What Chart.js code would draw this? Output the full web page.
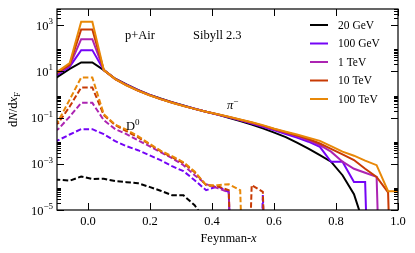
<!DOCTYPE html>
<html>
<head>
<meta charset="utf-8">
<script src="https://cdn.jsdelivr.net/npm/chart.js@4.4.1/dist/chart.umd.min.js"></script>
<style>
  html, body { margin: 0; padding: 0; background: #fff; }
</style>
</head>
<body>
<canvas id="myChart" width="415" height="253"></canvas>
<script>
// bin centres in Feynman-x (first one sits just outside the frame)
const xF = [-0.133, -0.096, -0.059, -0.022, 0.014, 0.051, 0.088, 0.124, 0.161, 0.198,
            0.234, 0.271, 0.308, 0.344, 0.381, 0.418, 0.454, 0.491, 0.528, 0.564,
            0.601, 0.638, 0.674, 0.711, 0.748, 0.784, 0.821, 0.858, 0.894, 0.931,
            0.968, 1.004];

const energias = ["20 GeV", "100 GeV", "1 TeV", "10 TeV", "100 TeV"];
const colores = ["#000000", "rgb(116,4,246)", "rgb(172,36,178)", "rgb(200,58,4)", "rgb(232,136,8)"];

// pi- (solid)
const pion20GeV  = [2.65, 6.1, 12.7, 24.3, 24.3, 11.3, 4.8, 2.7, 1.57, 0.98, 0.665, 0.465, 0.331, 0.243, 0.18, 0.134, 0.099, 0.0713, 0.0503, 0.034, 0.0222, 0.0142, 0.0082, 0.0045, 0.00236, 0.00123, 0.00032, 4.8e-5, 1.6e-6];
const pion100GeV = [4.2, 7.6, 16, 83, 83, 11.3, 4.7, 2.63, 1.52, 0.96, 0.645, 0.45, 0.324, 0.24, 0.178, 0.135, 0.102, 0.0757, 0.0556, 0.04, 0.0279, 0.0195, 0.0135, 0.00905, 0.0054, 0.00121, 0.00121, 1.64e-4, 1.64e-4, 0];
const pion1TeV   = [4.6, 8.4, 17.7, 248, 248, 11.3, 4.6, 2.58, 1.49, 0.95, 0.64, 0.45, 0.32, 0.238, 0.178, 0.136, 0.105, 0.0787, 0.0584, 0.0425, 0.0305, 0.022, 0.0157, 0.0105, 0.00638, 0.00334, 0.00123, 6.1e-4, 4.1e-4, 2.7e-4, 0];
const pion10TeV  = [5.1, 9.2, 19.5, 652, 652, 11.3, 4.6, 2.5, 1.48, 0.94, 0.635, 0.45, 0.32, 0.238, 0.18, 0.139, 0.107, 0.081, 0.0614, 0.045, 0.032, 0.0233, 0.0169, 0.0118, 0.00757, 0.00442, 0.00253, 0.00146, 6.1e-4, 2.7e-4, 5.8e-5, 0];
const pion100TeV = [4.6, 10.2, 22.6, 1390, 1390, 11.3, 4.6, 2.5, 1.46, 0.93, 0.63, 0.44, 0.318, 0.238, 0.18, 0.14, 0.109, 0.083, 0.063, 0.047, 0.033, 0.0245, 0.0185, 0.0135, 0.0098, 0.00578, 0.00334, 0.00224, 0.00136, 0.00087, 6.5e-5, 6.5e-5];

// D0 (dashed)
const d020GeV  = [2.15e-4, 2.05e-4, 1.85e-4, 2.8e-4, 2.2e-4, 2.26e-4, 1.77e-4, 1.6e-4, 1.45e-4, 1.0e-4, 6.8e-5, 4.4e-5, 4.3e-5, 1.6e-5, 3.1e-6];
const d0100GeV = [0.00705, 0.0105, 0.0185, 0.0315, 0.0315, 0.0191, 0.0095, 0.00578, 0.00388, 0.00236, 0.00143, 7.9e-4, 4.8e-4, 1.95e-4, 7.2e-5, 1.07e-4, 5.9e-5, 0, 0, 4.4e-5, 0];
const d01TeV   = [0.0211, 0.0315, 0.11, 0.433, 0.433, 0.077, 0.0315, 0.0191, 0.0105, 0.00578, 0.00318, 0.00175, 8.7e-4, 3.2e-4, 1.31e-4, 8.8e-5, 5.9e-5, 0];
const d010TeV  = [0.0348, 0.0573, 0.3, 2.01, 2.01, 0.127, 0.0469, 0.0258, 0.0142, 0.00705, 0.0035, 0.00193, 0.00106, 4.3e-4, 1.19e-4, 1.07e-4, 7.2e-5, 0, 1.19e-4, 6.1e-5, 0];
const d0100TeV = [0.0384, 0.07, 0.6, 5.45, 5.45, 0.14, 0.0493, 0.030, 0.0157, 0.0074, 0.0037, 0.00213, 0.00117, 4.6e-4, 1.19e-4, 1.19e-4, 1.31e-4, 7.2e-5, 0];

const xTicks = [0.0, 0.2, 0.4, 0.6, 0.8, 1.0];
const xTickLabels = ["0.0", "0.2", "0.4", "0.6", "0.8", "1.0"];
const yTicks = [1e-5, 1e-3, 1e-1, 1e1, 1e3];
const yTickExp = ["\u22125", "\u22123", "\u22121", "1", "3"];

const fuente = "'Liberation Serif', 'DejaVu Serif', serif";

// empty bins: clip to a tiny value so the line falls straight down (as matplotlib does)
function puntos(vals) {
    return vals.map((v, i) => ({ x: xF[i], y: v > 0 ? v : 1e-20 }));
}

const piones = [pion20GeV, pion100GeV, pion1TeV, pion10TeV, pion100TeV];
const mesonesD = [d020GeV, d0100GeV, d01TeV, d010TeV, d0100TeV];

const datasets = [];
piones.forEach((serie, i) => {
    datasets.push({
        label: energias[i],
        data: puntos(serie),
        borderColor: colores[i],
        borderWidth: 2,
        pointRadius: 0,
        tension: 0,
        fill: false,
        clip: 0,
        order: 20 - i
    });
});
mesonesD.forEach((serie, i) => {
    datasets.push({
        label: energias[i] + " D0",
        data: puntos(serie),
        borderColor: colores[i],
        borderWidth: 2,
        borderDash: [5.5, 2.5],
        pointRadius: 0,
        tension: 0,
        fill: false,
        clip: 0,
        order: 10 - i
    });
});

function rich(ctx, partes, x, y, align) {
    let w = 0;
    partes.forEach(p => {
        ctx.font = (p.i ? "italic " : "") + (p.s || 12) + "px " + fuente;
        w += ctx.measureText(p.t).width;
    });
    let cx = align === "right" ? x - w : align === "center" ? x - w / 2 : x;
    partes.forEach(p => {
        ctx.font = (p.i ? "italic " : "") + (p.s || 12) + "px " + fuente;
        ctx.fillText(p.t, cx, y + (p.dy || 0));
        cx += ctx.measureText(p.t).width;
    });
}

const ejes = {
    id: "ejes",
    afterDatasetsDraw(chart) {
        const ctx = chart.ctx;
        const a = chart.chartArea;
        const sx = chart.scales.x, sy = chart.scales.y;
        ctx.save();
        ctx.strokeStyle = "#000";
        ctx.fillStyle = "#000";
        ctx.lineWidth = 1;
        const seg = (x1, y1, x2, y2) => { ctx.beginPath(); ctx.moveTo(x1, y1); ctx.lineTo(x2, y2); ctx.stroke(); };

        // x ticks, inward, bottom and top
        xTicks.forEach(t => {
            const px = Math.round(sx.getPixelForValue(t)) + 0.5;
            seg(px, a.bottom, px, a.bottom - 7);
            seg(px, a.top, px, a.top + 7);
        });
        // y ticks: majors every two decades, minors 2..9 above each labelled decade
        yTicks.forEach(t => {
            const py = Math.round(sy.getPixelForValue(t)) + 0.5;
            seg(a.left, py, a.left + 7, py);
            seg(a.right, py, a.right - 7, py);
            for (let m = 2; m <= 9; m++) {
                const v = t * m;
                if (v > sy.max) break;
                const pm = Math.round(sy.getPixelForValue(v)) + 0.5;
                seg(a.left, pm, a.left + 4, pm);
                seg(a.right, pm, a.right - 4, pm);
            }
        });
        ctx.lineWidth = 1.2;
        ctx.strokeRect(a.left, a.top, a.right - a.left, a.bottom - a.top);

        // tick labels
        ctx.textBaseline = "alphabetic";
        xTicks.forEach((t, i) => {
            rich(ctx, [{ t: xTickLabels[i], s: 12.5 }], sx.getPixelForValue(t), a.bottom + 15, "center");
        });
        yTicks.forEach((t, i) => {
            const py = sy.getPixelForValue(t);
            rich(ctx, [{ t: "10", s: 12.5 }, { t: yTickExp[i], s: 9, dy: -5.5 }], a.left - 4, py + 4.5, "right");
        });

        // axis titles
        rich(ctx, [{ t: "Feynman-", s: 12.5 }, { t: "x", s: 12.5, i: true }], (a.left + a.right) / 2 + 1, 242, "center");
        ctx.save();
        ctx.translate(17, (a.top + a.bottom) / 2);
        ctx.rotate(-Math.PI / 2);
        rich(ctx, [{ t: "d", s: 12.5 }, { t: "N", s: 12.5, i: true }, { t: "/d", s: 12.5 }, { t: "x", s: 12.5, i: true }, { t: "F", s: 9, dy: 2.5 }], 0, 0, "center");
        ctx.restore();

        // annotations
        rich(ctx, [{ t: "p+Air", s: 12.5 }], 125, 39, "left");
        rich(ctx, [{ t: "Sibyll 2.3", s: 12.5 }], 193, 39, "left");
        rich(ctx, [{ t: "\u03c0", s: 12.5, i: true }, { t: "\u2212", s: 9, dy: -5.5 }], 227, 109, "left");
        rich(ctx, [{ t: "D", s: 12.5 }, { t: "0", s: 9, dy: -5.5 }], 126, 130, "left");

        // legend
        const filas = [25, 43.5, 62, 80.5, 99];
        energias.forEach((e, i) => {
            ctx.strokeStyle = colores[i];
            ctx.lineWidth = 2;
            seg(310, filas[i], 328, filas[i]);
            ctx.textBaseline = "middle";
            rich(ctx, [{ t: e, s: 11.5 }], 338, filas[i] + 0.5, "left");
        });
        ctx.restore();
    }
};

const config = {
    type: "line",
    data: { datasets },
    options: {
        responsive: false,
        animation: false,
        devicePixelRatio: 1,
        layout: { padding: { left: 57, right: 17, top: 9, bottom: 43 } },
        plugins: { legend: { display: false }, tooltip: { enabled: false } },
        scales: {
            x: { type: "linear", min: -0.1, max: 1.0, display: false },
            y: { type: "logarithmic", min: 1e-5, max: 5000, display: false }
        }
    },
    plugins: [ejes]
};

const myChart = document.querySelector("#myChart");
const chart = new Chart(myChart, config);
</script>
</body>
</html>
